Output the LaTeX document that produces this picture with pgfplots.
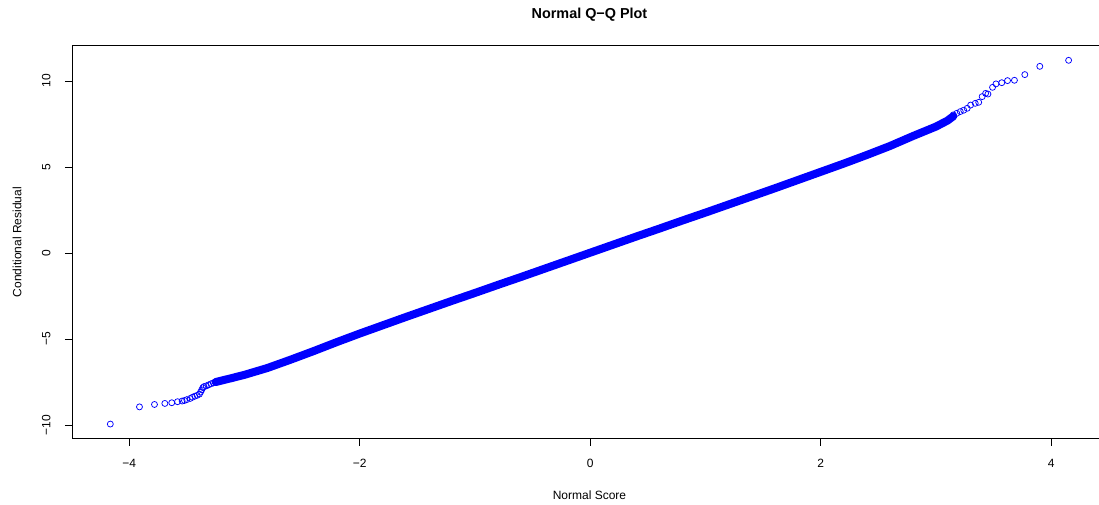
\documentclass[border=0pt]{standalone}
\usepackage{fontspec}
\setmainfont{Liberation Sans}
\usepackage{pgfplots}
\pgfplotsset{compat=1.18}
\begin{document}
\begin{tikzpicture}
\begin{axis}[
  name=ax,
  at={(0,0)}, anchor=south west,
  scale only axis, width=1035bp, height=393bp,
  xmin=-4.4955, xmax=4.4825, ymin=-10.79, ymax=12.05,
  tick pos=left, tick align=outside, major tick length=7.2bp,
  axis line style={line width=0.75bp, black},
  tick style={line width=0.75bp, black},
  xtick={-4,-2,0,2,4}, xticklabels={−4,−2,0,2,4},
  ytick={-10,-5,0,5,10}, yticklabels={−10,−5,0,5,10},
  ticklabel style={font=\fontsize{12bp}{14bp}\selectfont},
  xticklabel style={anchor=base, inner sep=0pt, yshift=-22bp},
  yticklabel style={anchor=base, inner sep=0pt, xshift=-14.5bp, rotate=90},
  clip=false,
]
% dense central band
\addplot[blue, line width=8bp, line cap=round, line join=round] coordinates {
(-3.25,-7.50) (-3.1,-7.25) (-3.0,-7.08) (-2.8,-6.68) (-2.6,-6.20) (-2.4,-5.70)
(-2.2,-5.18) (-2.0,-4.68) (-1.8,-4.20) (-1.6,-3.72) (-1.4,-3.25) (-1.2,-2.78)
(-1.0,-2.32) (-0.8,-1.85) (-0.6,-1.39) (-0.4,-0.92) (-0.2,-0.45) (0,0.02)
(0.2,0.49) (0.4,0.96) (0.6,1.42) (0.8,1.89) (1.0,2.35) (1.2,2.82) (1.4,3.29)
(1.6,3.76) (1.8,4.24) (2.0,4.72) (2.2,5.20) (2.4,5.70) (2.6,6.22) (2.8,6.80)
(3.0,7.35) (3.1,7.70) (3.15,7.95)
};
% tail points
\addplot[blue, only marks, mark=o, mark size=3bp, mark options={line width=0.75bp}] coordinates {
(-4.163,-9.94) (-3.91,-8.94) (-3.78,-8.80) (-3.69,-8.74) (-3.63,-8.70) (-3.58,-8.64)
(-3.54,-8.60) (-3.52,-8.57) (-3.50,-8.52) (-3.47,-8.45) (-3.45,-8.38) (-3.43,-8.32)
(-3.41,-8.27) (-3.39,-8.20) (-3.38,-8.08) (-3.37,-7.95) (-3.36,-7.82) (-3.35,-7.76)
(-3.33,-7.72) (-3.31,-7.66) (-3.29,-7.60) (-3.27,-7.55) (-3.25,-7.50)
(3.15,8.03) (3.18,8.12) (3.21,8.22) (3.24,8.30) (3.27,8.41) (3.30,8.60) (3.34,8.70)
(3.37,8.76) (3.40,9.09) (3.43,9.28) (3.45,9.24) (3.49,9.63) (3.52,9.83) (3.57,9.90)
(3.62,10.02) (3.68,10.04) (3.77,10.37) (3.90,10.85) (4.15,11.2)
};
\node[anchor=base, font=\bfseries\fontsize{14.4bp}{17bp}\selectfont, yshift=27.4bp] at (rel axis cs:0.5,1) {Normal Q−Q Plot};
\node[anchor=base, font=\fontsize{12bp}{14bp}\selectfont, yshift=-60.7bp] at (rel axis cs:0.5,0) {Normal Score};
\node[anchor=base, font=\fontsize{12bp}{14bp}\selectfont, xshift=-50.7bp, rotate=90] at (rel axis cs:0,0.5) {Conditional Residual};
\end{axis}
\pgfresetboundingbox
\path[use as bounding box] ([xshift=-72bp,yshift=-65.4bp]ax.south west) rectangle ([xshift=1027bp,yshift=438.7bp]ax.south west);
\end{tikzpicture}
\end{document}
